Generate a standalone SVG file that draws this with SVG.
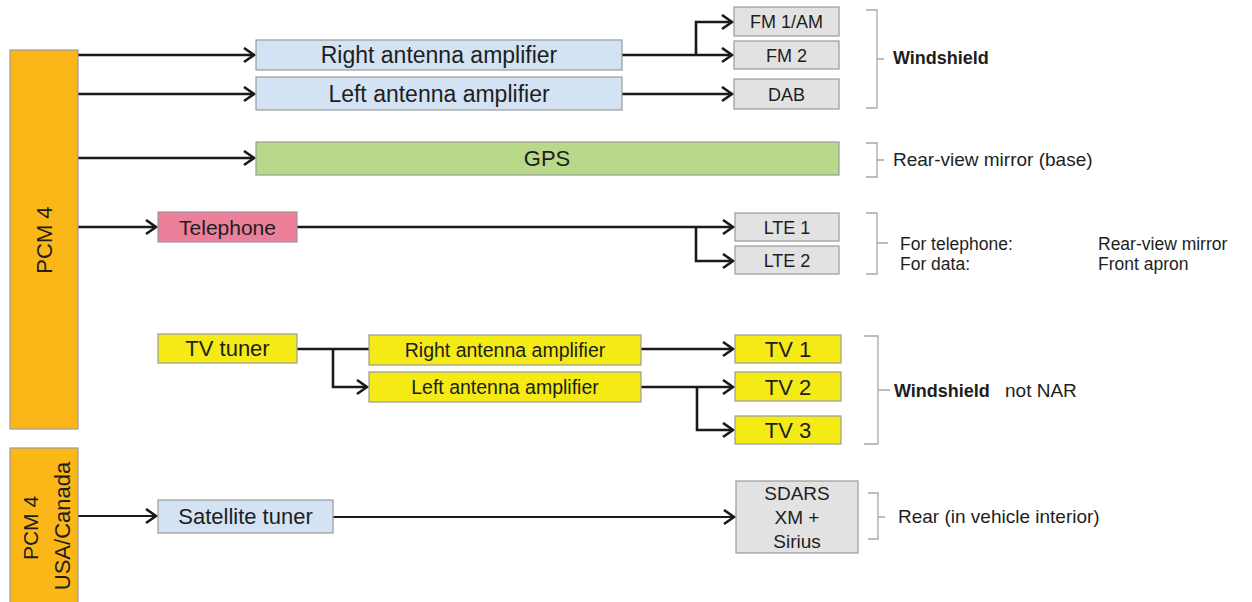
<svg xmlns="http://www.w3.org/2000/svg" width="1252" height="602" viewBox="0 0 1252 602">
<style>
text{font-family:"Liberation Sans",Arial,sans-serif;fill:#1e1e1e}
.c{text-anchor:middle}
.box{stroke:#9a9a9a;stroke-width:1.2}
.pcm{fill:#fbb718}
.blue{fill:#d3e3f3}
.green{fill:#b8d98a}
.pink{fill:#ec7f99}
.gray{fill:#e2e2e2}
.yel{fill:#f4ea16}
.ln{fill:none;stroke:#1a1a1a;stroke-width:2.6}
.thin{stroke-width:2}
.br{fill:none;stroke:#a8a8a8;stroke-width:1.3}
</style>
<defs>
<marker id="ar" markerUnits="userSpaceOnUse" markerWidth="16" markerHeight="18" refX="11" refY="8" orient="auto">
<path d="M1,1 L11,8 L1,15" fill="none" stroke="#1a1a1a" stroke-width="2.6"/>
</marker>
</defs>
<rect width="1252" height="602" fill="#ffffff"/>

<g id="connectors">
<path class="ln" d="M78,55 H254" marker-end="url(#ar)"/>
<path class="ln" d="M78,94 H254" marker-end="url(#ar)"/>
<path class="ln" d="M78,158 H254" marker-end="url(#ar)"/>
<path class="ln" d="M78,227 H156" marker-end="url(#ar)"/>
<path class="ln" d="M622,55 H732" marker-end="url(#ar)"/>
<path class="ln" d="M696,55 V22 H732" marker-end="url(#ar)"/>
<path class="ln" d="M622,94 H732" marker-end="url(#ar)"/>
<path class="ln" d="M297,227 H733" marker-end="url(#ar)"/>
<path class="ln" d="M696,227 V261 H733" marker-end="url(#ar)"/>
<path class="ln" d="M297,349 H369"/>
<path class="ln" d="M333,349 V387 H367" marker-end="url(#ar)"/>
<path class="ln" d="M641,349 H733" marker-end="url(#ar)"/>
<path class="ln" d="M641,387 H733" marker-end="url(#ar)"/>
<path class="ln" d="M697,387 V430 H733" marker-end="url(#ar)"/>
<path class="ln thin" d="M78,516 H156" marker-end="url(#ar)"/>
<path class="ln thin" d="M333,517 H734" marker-end="url(#ar)"/>
</g>

<g id="pcm4">
<rect class="box pcm" x="10" y="50" width="68" height="379"/>
<text class="c" font-size="22" transform="translate(52,240) rotate(-90)">PCM 4</text>
</g>
<g id="pcm4-usa">
<rect class="box pcm" x="10" y="448" width="68" height="160"/>
<text class="c" font-size="21" transform="translate(38,528) rotate(-90)">PCM 4</text>
<text class="c" font-size="22" transform="translate(70,526) rotate(-90)">USA/Canada</text>
</g>

<g id="right-amp">
<rect class="box blue" x="256" y="40" width="366" height="30"/>
<text class="c" x="439" y="63" font-size="23">Right antenna amplifier</text>
</g>
<g id="left-amp">
<rect class="box blue" x="256" y="77" width="366" height="33"/>
<text class="c" x="439" y="101.5" font-size="23">Left antenna amplifier</text>
</g>
<g id="gps">
<rect class="box green" x="256" y="142" width="583" height="33"/>
<text class="c" x="547" y="166" font-size="22">GPS</text>
</g>
<g id="telephone">
<rect class="box pink" x="158" y="212" width="139" height="30"/>
<text class="c" x="227.5" y="234.5" font-size="21">Telephone</text>
</g>

<g id="fm1">
<rect class="box gray" x="734" y="7" width="105" height="29"/>
<text class="c" x="786.5" y="28" font-size="18">FM 1/AM</text>
</g>
<g id="fm2">
<rect class="box gray" x="734" y="41" width="105" height="28"/>
<text class="c" x="786.5" y="61.5" font-size="18">FM 2</text>
</g>
<g id="dab">
<rect class="box gray" x="734" y="79" width="105" height="30"/>
<text class="c" x="786.5" y="100.5" font-size="18">DAB</text>
</g>
<g id="lte1">
<rect class="box gray" x="735" y="213" width="104" height="28"/>
<text class="c" x="787" y="233.5" font-size="18">LTE 1</text>
</g>
<g id="lte2">
<rect class="box gray" x="735" y="246" width="104" height="28"/>
<text class="c" x="787" y="266.5" font-size="18">LTE 2</text>
</g>

<g id="tv-tuner">
<rect class="box yel" x="158" y="334" width="139" height="29"/>
<text class="c" x="227.5" y="356" font-size="22">TV tuner</text>
</g>
<g id="tv-right-amp">
<rect class="box yel" x="369" y="335" width="272" height="30"/>
<text class="c" x="505" y="357" font-size="19.5">Right antenna amplifier</text>
</g>
<g id="tv-left-amp">
<rect class="box yel" x="369" y="372" width="272" height="30"/>
<text class="c" x="505" y="394" font-size="19.5">Left antenna amplifier</text>
</g>
<g id="tv1">
<rect class="box yel" x="735" y="335" width="106" height="28"/>
<text class="c" x="788" y="357" font-size="22">TV 1</text>
</g>
<g id="tv2">
<rect class="box yel" x="735" y="372" width="106" height="29"/>
<text class="c" x="788" y="394.5" font-size="22">TV 2</text>
</g>
<g id="tv3">
<rect class="box yel" x="735" y="416" width="106" height="28"/>
<text class="c" x="788" y="438" font-size="22">TV 3</text>
</g>

<g id="satellite-tuner">
<rect class="box blue" x="158" y="500" width="175" height="33"/>
<text class="c" x="245.5" y="524" font-size="22">Satellite tuner</text>
</g>
<g id="sdars">
<rect class="box gray" x="736" y="481" width="122" height="72"/>
<text class="c" x="797" y="500" font-size="19">SDARS</text>
<text class="c" x="797" y="524" font-size="19">XM +</text>
<text class="c" x="797" y="548" font-size="19">Sirius</text>
</g>

<g id="label-windshield">
<path class="br" d="M866,10 H877 V108 H866 M877,59 H884"/>
<text x="893" y="64" font-size="18" font-weight="bold">Windshield</text>
</g>
<g id="label-gps">
<path class="br" d="M866,143 H877 V177 H866 M877,160 H884"/>
<text x="893" y="166" font-size="19">Rear-view mirror (base)</text>
</g>
<g id="label-lte">
<path class="br" d="M866,213 H877 V274 H866 M877,243 H888"/>
<text x="900" y="250" font-size="17.5">For telephone:</text>
<text x="900" y="270" font-size="17.5">For data:</text>
<text x="1098" y="250" font-size="17.5">Rear-view mirror</text>
<text x="1098" y="270" font-size="17.5">Front apron</text>
</g>
<g id="label-tv">
<path class="br" d="M864,336 H878 V444 H864 M878,390 H890"/>
<text x="894" y="397" font-size="18" font-weight="bold">Windshield</text>
<text x="1005" y="397" font-size="19">not NAR</text>
</g>
<g id="label-sdars">
<path class="br" d="M868,493 H878 V539 H868 M878,517 H885"/>
<text x="898" y="523" font-size="19">Rear (in vehicle interior)</text>
</g>
</svg>
